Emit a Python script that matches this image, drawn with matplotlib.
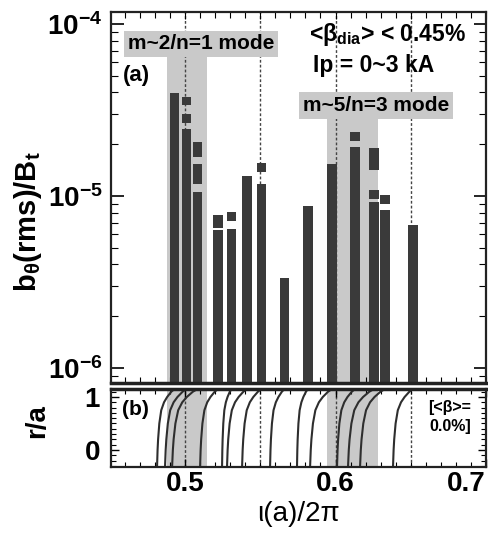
import numpy as np
import matplotlib
matplotlib.use("Agg")
import matplotlib.pyplot as plt
from matplotlib.ticker import MultipleLocator, LogLocator, FixedLocator, NullFormatter

plt.rcParams['font.family'] = ['Liberation Sans', 'DejaVu Sans']
plt.rcParams['font.weight'] = 'bold'
plt.rcParams['mathtext.fontset'] = 'custom'
plt.rcParams['mathtext.rm'] = 'Liberation Sans:bold'
plt.rcParams['mathtext.it'] = 'Liberation Sans:bold'
plt.rcParams['mathtext.bf'] = 'Liberation Sans:bold'
plt.rcParams['mathtext.default'] = 'rm'
plt.rcParams['axes.unicode_minus'] = False

# ---------------- data ----------------
iota_a = [0.4930, 0.5010, 0.5083, 0.5219, 0.5309, 0.5412, 0.5508,
          0.5661, 0.5817, 0.5977, 0.6130, 0.6256, 0.6329, 0.6515]
b_rms = [3.97e-5, 2.45e-5, 1.05e-5, 6.34e-6, 6.43e-6, 1.31e-5, 1.17e-5,
         3.34e-6, 8.74e-6, 1.53e-5, 1.93e-5, 9.23e-6, 8.29e-6, 6.78e-6]
# extra (scatter) segments above some bars: (iota, low, high)
seg_iota = [0.5010, 0.5010, 0.5083, 0.5083, 0.5219, 0.5309, 0.5508,
            0.6130, 0.6256, 0.6256, 0.6329]
seg_low = [3.38e-5, 2.66e-5, 1.68e-5, 1.17e-5, 6.52e-6, 7.16e-6, 1.38e-5,
           2.09e-5, 1.42e-5, 9.61e-6, 8.98e-6]
seg_high = [3.76e-5, 3.00e-5, 2.06e-5, 1.53e-5, 7.75e-6, 8.07e-6, 1.56e-5,
            2.36e-5, 1.90e-5, 1.08e-5, 1.01e-5]
# iota at the magnetic axis (bottom of each profile in panel b)
iota_axis = [0.4814, 0.4867, 0.4914, 0.5100, 0.5246, 0.5279, 0.5379,
             0.5565, 0.5744, 0.5831, 0.6010, 0.6083, 0.6163, 0.6382]
# common profile shape
ra_levels = [1.15, 1.10, 1.00, 0.90, 0.75, 0.50, 0.20, 0.00, -0.32]
drop_frac = [0.0, 0.18, 0.42, 0.60, 0.76, 0.87, 0.94, 0.97, 1.0]

rational = [0.50, 0.55, 0.60, 0.65]
band1 = (0.4880, 0.5146)
band2 = (0.5944, 0.6282)
xticks = [0.5, 0.6, 0.7]
xtick_labels = ['0.5', '0.6', '0.7']

bar_color = '#3a3a3a'
band_color = '#c9c9c9'
W, H = 489, 535

fig = plt.figure(figsize=(W / 100, H / 100), dpi=100)
ax1 = fig.add_axes([111 / W, 1 - 383 / H, 375 / W, 371 / H])
ax2 = fig.add_axes([111 / W, 1 - 467 / H, 375 / W, 78 / H])

xlim = (0.4508, 0.700)

# ---------------- panel (a) ----------------
ax1.set_yscale('log')
ax1.set_xlim(*xlim)
ax1.set_ylim(8.18e-7, 1.175e-4)

ax1.axvspan(band1[0], band1[1], ymin=0, ymax=0.884, color=band_color, zorder=0, lw=0)
ax1.axvspan(band2[0], band2[1], ymin=0, ymax=0.714, color=band_color, zorder=0, lw=0)
for r in rational:
    ax1.axvline(r, color='#444444', lw=1.0, ls=(0, (2, 1.5)), zorder=1)

ax1.bar(iota_a, np.array(b_rms) - 1e-8, bottom=1e-8, width=0.0063,
        color=bar_color, zorder=2)
ax1.bar(seg_iota, np.array(seg_high) - np.array(seg_low), bottom=seg_low,
        width=0.0063, color=bar_color, zorder=2)

ax1.text(0.24, 0.914, 'm~2/n=1 mode', transform=ax1.transAxes, ha='center',
         va='center', fontsize=15, zorder=3,
         bbox=dict(facecolor=band_color, edgecolor='none', pad=2.5))
ax1.text(0.707, 0.748, 'm~5/n=3 mode', transform=ax1.transAxes, ha='center',
         va='center', fontsize=15, zorder=3,
         bbox=dict(facecolor=band_color, edgecolor='none', pad=2.5))
ax1.text(0.738, 0.939, '<β$_{dia}$> < 0.45%', transform=ax1.transAxes,
         ha='center', va='center', fontsize=16.5)
ax1.text(0.70, 0.857, 'Ip = 0~3 kA', transform=ax1.transAxes,
         ha='center', va='center', fontsize=16.5)
ax1.text(0.032, 0.83, '(a)', transform=ax1.transAxes, ha='left',
         va='center', fontsize=16)

ax1.yaxis.set_major_locator(LogLocator(base=10, numticks=10))
ax1.yaxis.set_minor_locator(LogLocator(base=10, subs=np.arange(2, 10), numticks=10))
ax1.yaxis.set_minor_formatter(NullFormatter())
ax1.xaxis.set_minor_locator(MultipleLocator(0.01))
ax1.xaxis.set_major_locator(MultipleLocator(0.05))
ax1.tick_params(axis='both', which='both', direction='in', top=True, right=True)
ax1.tick_params(axis='y', which='major', length=9, width=1.2, labelsize=20, pad=6)
ax1.tick_params(axis='y', which='minor', length=5, width=0.8)
ax1.tick_params(axis='x', which='major', length=5, width=0.8, labelbottom=False)
ax1.tick_params(axis='x', which='minor', length=4, width=0.8)
for s in ax1.spines.values():
    s.set_linewidth(1.6)
    s.set_color('#222222')
ax1.spines['bottom'].set_linewidth(2.5)

# ---------------- panel (b) ----------------
ax2.set_xlim(*xlim)
ax2.set_ylim(-0.32, 1.15)
ax2.axvspan(band1[0], band1[1], color=band_color, zorder=0, lw=0)
ax2.axvspan(band2[0], band2[1], color=band_color, zorder=0, lw=0)
for r in rational:
    ax2.axvline(r, color='#444444', lw=1.0, ls=(0, (2, 1.5)), zorder=1)
frac = np.array(drop_frac)
for top, bot in zip(iota_a, iota_axis):
    xs = top - (top - bot) * frac
    ax2.plot(xs, ra_levels, color='#2e2e2e', lw=1.5, zorder=2)

ax2.text(0.029, 0.74, '(b)', transform=ax2.transAxes, ha='left',
         va='center', fontsize=15)
ax2.text(0.904, 0.64, '[<β>=\n0.0%]', transform=ax2.transAxes, ha='center',
         va='center', fontsize=11.5, linespacing=1.3)

ax2.xaxis.set_major_locator(FixedLocator(xticks))
ax2.set_xticklabels(xtick_labels)
ax2.xaxis.set_minor_locator(MultipleLocator(0.01))
ax2.yaxis.set_major_locator(FixedLocator([0, 1]))
ax2.set_yticklabels(['0', '1'])
ax2.yaxis.set_minor_locator(MultipleLocator(0.1))
ax2.tick_params(axis='both', which='both', direction='in', top=True, right=True)
ax2.tick_params(axis='both', which='major', length=6, width=1.0, labelsize=20)
ax2.tick_params(axis='x', which='major', pad=3)
ax2.tick_params(axis='y', which='major', pad=8)
ax2.tick_params(axis='both', which='minor', length=3.5, width=0.8)
ax2.get_xticklabels()[-1].set_ha('right')
for s in ax2.spines.values():
    s.set_linewidth(1.6)
    s.set_color('#222222')
ax2.spines['top'].set_linewidth(2.5)

# ---------------- labels ----------------
fig.text(28 / W, 1 - 222 / H, 'b$_θ$(rms)/B$_t$', rotation=90, ha='center',
         va='center', fontsize=21)
fig.text(37 / W, 1 - 421 / H, 'r/a', rotation=90, ha='center', va='center',
         fontsize=20)
fig.text(298 / W, 1 - 514 / H, 'ι(a)/2π', ha='center', va='center',
         fontsize=20, fontweight='normal')

fig.savefig('out.png', dpi=100)
